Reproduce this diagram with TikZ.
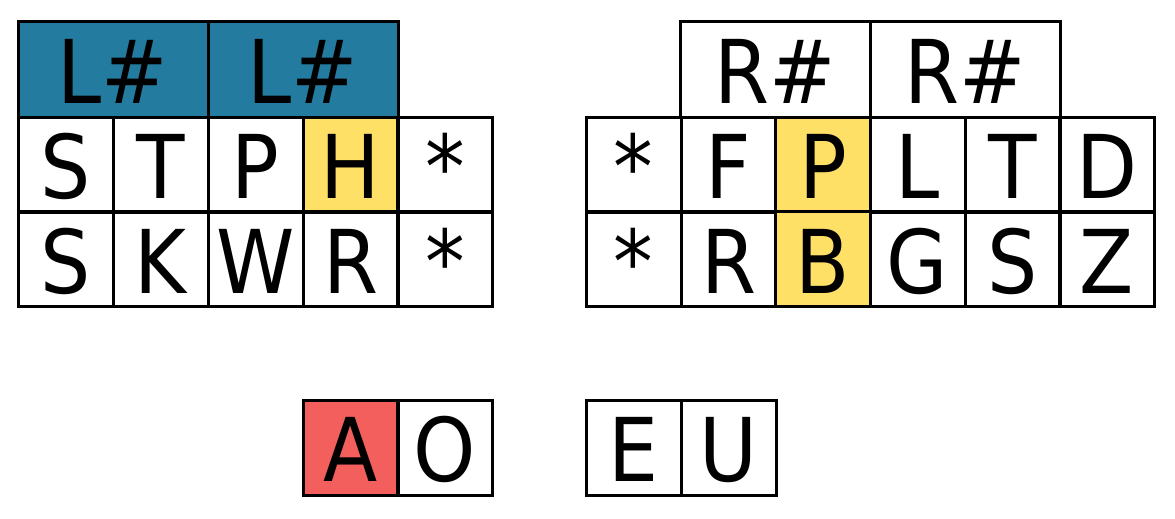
\documentclass[tikz,border=0pt]{standalone}
\usepackage{fontspec}
\setmainfont{DejaVu Sans Condensed}
\definecolor{teal}{HTML}{247BA0}
\definecolor{yel}{HTML}{FFE066}
\definecolor{redc}{HTML}{F25F5C}
\begin{document}
\begin{tikzpicture}[x=1pt,y=-1pt,
  cell/.style={draw=black, line width=3pt, rectangle, inner sep=0pt,
    minimum width=95pt, minimum height=95pt, text height=68pt, text depth=0pt,
    font=\fontsize{88}{90}\selectfont},
  wide/.style={cell, minimum width=190pt}]
\useasboundingbox (0,0) rectangle (1175,519);
% left block
\node[wide, fill=teal] (lh1) at (113,69.5) {L\#};
\node[wide, fill=teal] (lh2) at (303,69.5) {L\#};
\node[cell] (ls1) at (65.5,164.5) {S};
\node[cell] (lt1) at (160.5,164.5) {T};
\node[cell] (lp1) at (255.5,164.5) {P};
\node[cell, fill=yel] (lh) at (350.5,164.5) {H};
\node[cell] (la1) at (445,164.5) {*};
\node[cell] (ls2) at (65.5,259) {S};
\node[cell] (lk2) at (160.5,259) {K};
\node[cell] (lw2) at (255.5,259) {W};
\node[cell] (lr2) at (350.5,259) {R};
\node[cell] (la2) at (445,259) {*};
% right block
\node[wide] (rh1) at (775.5,69.5) {R\#};
\node[wide] (rh2) at (965,69.5) {R\#};
\node[cell] (ra1) at (633.5,164.5) {*};
\node[cell] (rf1) at (728.5,164.5) {F};
\node[cell, fill=yel] (rp1) at (823,164.5) {P};
\node[cell] (rl1) at (917.5,164.5) {L};
\node[cell] (rt1) at (1012.5,164.5) {T};
\node[cell] (rd1) at (1107,164.5) {D};
\node[cell] (ra2) at (633.5,259) {*};
\node[cell] (rr2) at (728.5,259) {R};
\node[cell, fill=yel] (rb2) at (823,259) {B};
\node[cell] (rg2) at (917.5,259) {G};
\node[cell] (rs2) at (1012.5,259) {S};
\node[cell] (rz2) at (1107,259) {Z};
% vowels
\node[cell, fill=redc] (va) at (350.5,447.5) {A};
\node[cell] (vo) at (445,447.5) {O};
\node[cell] (ve) at (633.5,447.5) {E};
\node[cell] (vu) at (728.5,447.5) {U};
\end{tikzpicture}
\end{document}
